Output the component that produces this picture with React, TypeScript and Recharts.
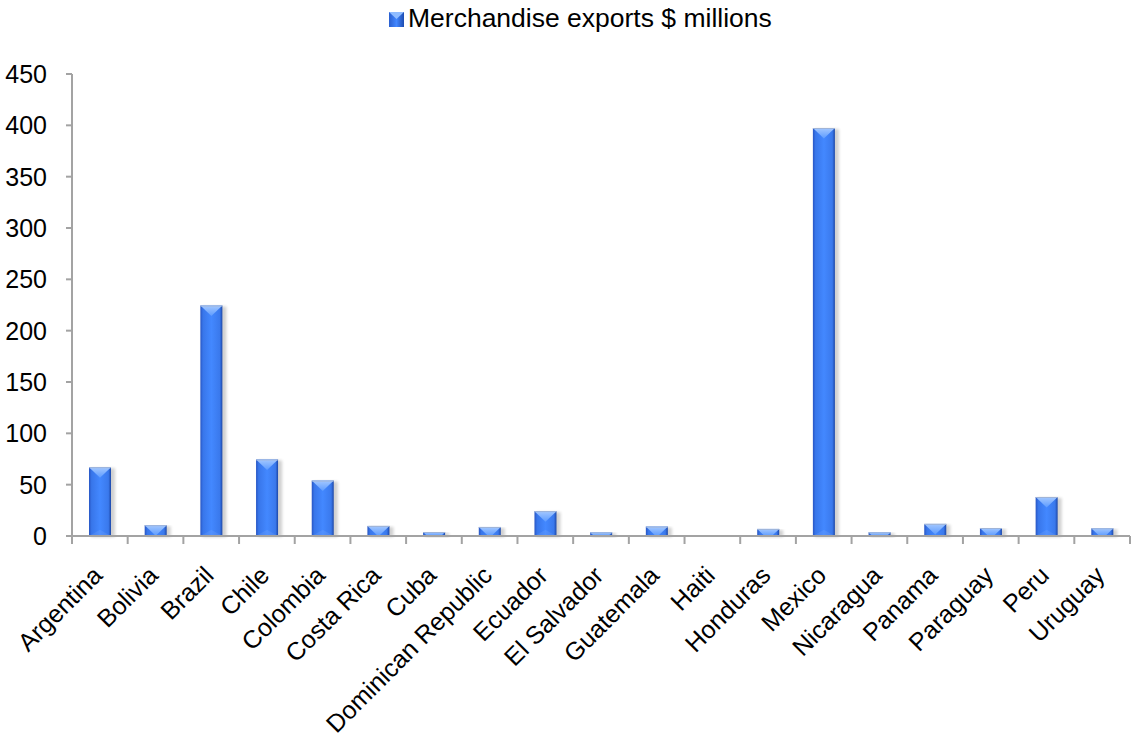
import React from 'react';
import { BarChart, Bar, XAxis, YAxis, Legend } from 'recharts';

const categories = [
  'Argentina', 'Bolivia', 'Brazil', 'Chile', 'Colombia', 'Costa Rica', 'Cuba',
  'Dominican Republic', 'Ecuador', 'El Salvador', 'Guatemala', 'Haiti', 'Honduras',
  'Mexico', 'Nicaragua', 'Panama', 'Paraguay', 'Peru', 'Uruguay',
];
const exportsValues = [67, 10.5, 224.5, 74.6, 54, 9.8, 3.9, 8.8, 24.2, 3.6, 9.2, 0, 6.9, 397.4, 3.6, 11.8, 7.8, 38, 7.5];
const yTicks = [0, 50, 100, 150, 200, 250, 300, 350, 400, 450];
const seriesName = 'Merchandise exports $ millions';

const data = categories.map((c, i) => ({ country: c, value: exportsValues[i] }));

const FONT = '"Liberation Sans", Arial, Helvetica, sans-serif';
const AXIS_COLOR = '#a3a3a3';

const BevelBar = (props: any) => {
  const { x, y, width, height } = props;
  if (!height || height <= 0.5) return null;
  const w = width;
  const capH = w * 0.48;
  let cap: string;
  if (height >= capH) {
    cap = `${x},${y} ${x + w},${y} ${x + w / 2},${y + capH}`;
  } else {
    const t = (height * (w / 2)) / capH;
    cap = `${x},${y} ${x + w},${y} ${x + w - t},${y + height} ${x + t},${y + height}`;
  }
  const botH = Math.min(capH * 0.6, height * 0.3);
  return (
    <g>
      <rect x={x + 2} y={y + 1} width={w + 2} height={height} fill="#000" opacity={0.18} filter="url(#barShadow)" />
      <rect x={x} y={y} width={w} height={height} fill="url(#barGrad)" />
      <polygon points={cap} fill="url(#capGrad)" />
      {height > 14 && (
        <polygon
          points={`${x},${y + height} ${x + w},${y + height} ${x + w / 2},${y + height - botH}`}
          fill="#ffffff"
          opacity={0.08}
        />
      )}
      <line x1={x} x2={x + w} y1={y + 0.5} y2={y + 0.5} stroke="#9fb4d8" strokeWidth={1} />
    </g>
  );
};

const XTick = (props: any) => {
  const { x, y, payload, index, visibleTicksCount } = props;
  const half = payload && payload.offset ? payload.offset : 27.8;
  const isLast = index === (visibleTicksCount ?? categories.length) - 1;
  const ax = x + 4;
  const ay = y + 41;
  return (
    <g>
      <line x1={x - half} x2={x - half} y1={y} y2={y + 8} stroke={AXIS_COLOR} strokeWidth={2} />
      {isLast && <line x1={x + half} x2={x + half} y1={y} y2={y + 8} stroke={AXIS_COLOR} strokeWidth={2} />}
      <text
        x={ax}
        y={ay}
        textAnchor="end"
        transform={`rotate(-45, ${ax}, ${ay})`}
        fontSize={25}
        fontFamily={FONT}
        fill="#000"
      >
        {payload.value}
      </text>
    </g>
  );
};

const renderLegend = () => (
  <div style={{ display: 'flex', alignItems: 'center', fontFamily: FONT, fontSize: 26.5, color: '#000', whiteSpace: 'nowrap' }}>
    <svg width={17} height={16} style={{ marginRight: 3 }}>
      <defs>
        <linearGradient id="legGrad" x1="0" y1="0" x2="1" y2="0">
          <stop offset="0%" stopColor="#2a5fcf" />
          <stop offset="50%" stopColor="#4287ff" />
          <stop offset="100%" stopColor="#1d4cb0" />
        </linearGradient>
      </defs>
      <rect x={1} y={1} width={15} height={15} fill="url(#legGrad)" />
      <polygon points="1,1 16,1 8.5,8" fill="#8fbcff" />
    </svg>
    <span>{seriesName}</span>
  </div>
);

export default function App() {
  return (
    <div style={{ position: 'absolute', left: 0, top: 0, width: 1131, height: 740, background: '#fff' }}>
      <BarChart
        width={1131}
        height={740}
        data={data}
        margin={{ top: 74, right: 1, left: 0, bottom: 84 }}
      >
        <defs>
          <linearGradient id="barGrad" x1="0" y1="0" x2="1" y2="0">
            <stop offset="0%" stopColor="#2856c4" />
            <stop offset="12%" stopColor="#3876ea" />
            <stop offset="50%" stopColor="#4388ff" />
            <stop offset="88%" stopColor="#3a79ec" />
            <stop offset="100%" stopColor="#1c47a8" />
          </linearGradient>
          <linearGradient id="capGrad" x1="0" y1="0" x2="0" y2="1">
            <stop offset="0%" stopColor="#a4c8ff" />
            <stop offset="100%" stopColor="#5c9bff" />
          </linearGradient>
          <filter id="barShadow" x="-50%" y="-10%" width="200%" height="130%">
            <feGaussianBlur stdDeviation="1.5" />
          </filter>
        </defs>
        <Legend
          layout="horizontal"
          verticalAlign="middle"
          align="center"
          content={renderLegend}
          wrapperStyle={{ position: 'absolute', top: 3, left: 388, width: 'auto' }}
        />
        <XAxis
          dataKey="country"
          interval={0}
          height={120}
          tickSize={0}
          tickMargin={0}
          tickLine={false}
          axisLine={{ stroke: AXIS_COLOR, strokeWidth: 2 }}
          tick={<XTick />}
        />
        <YAxis
          width={72}
          domain={[0, 450]}
          ticks={yTicks}
          interval={0}
          tickSize={6}
          tickMargin={19}
          axisLine={{ stroke: AXIS_COLOR, strokeWidth: 2 }}
          tickLine={{ stroke: AXIS_COLOR, strokeWidth: 2 }}
          tick={{ fontSize: 25, fontFamily: FONT, fill: '#000' }}
        />
        <Bar dataKey="value" name={seriesName} barSize={22} shape={<BevelBar />} isAnimationActive={false} />
      </BarChart>
    </div>
  );
}
